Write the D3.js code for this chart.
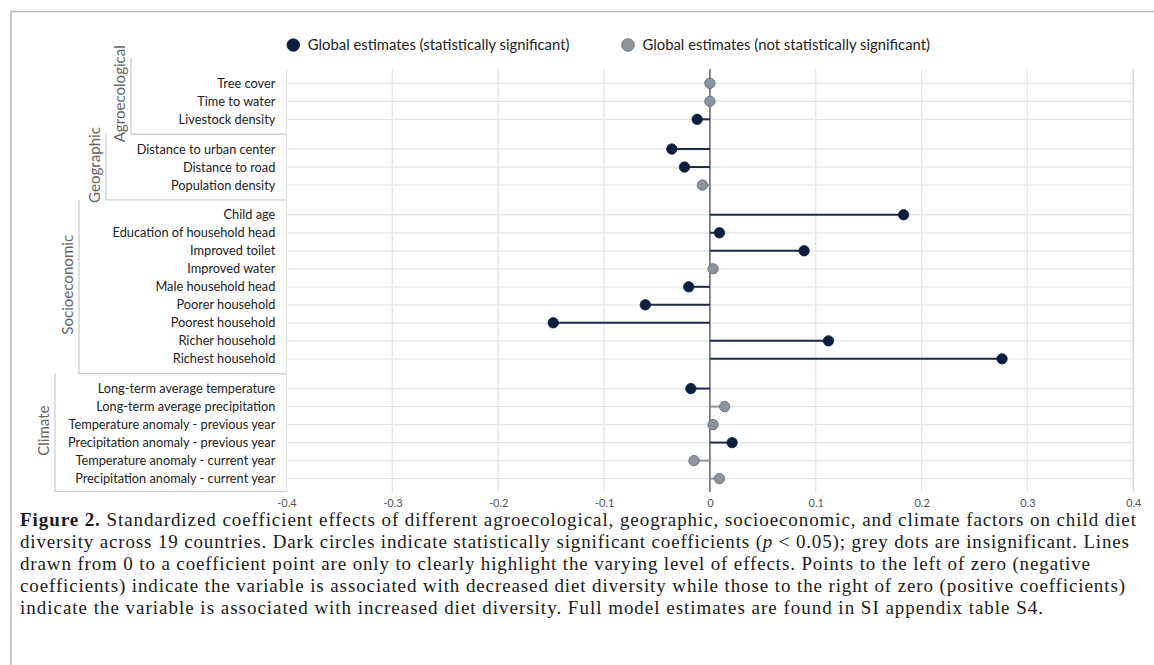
<!DOCTYPE html>
<html><head><meta charset="utf-8">
<script src="https://cdn.jsdelivr.net/npm/d3@7"></script>
<style>body{margin:0;background:#fff} svg{display:block}</style>
</head><body>
<svg id="c" width="1154" height="665"></svg>
<script>
const categories = ["Tree cover","Time to water","Livestock density","Distance to urban center","Distance to road","Population density","Child age","Education of household head","Improved toilet","Improved water","Male household head","Poorer household","Poorest household","Richer household","Richest household","Long-term average temperature","Long-term average precipitation","Temperature anomaly - previous year","Precipitation anomaly - previous year","Temperature anomaly - current year","Precipitation anomaly - current year"];
const groups = ["Agroecological","Geographic","Socioeconomic","Climate"];
const groupIndex = [0,0,0,1,1,1,2,2,2,2,2,2,2,2,2,3,3,3,3,3,3];
const coefficients = [0.000,0.000,-0.012,-0.036,-0.024,-0.007,0.183,0.009,0.089,0.003,-0.020,-0.061,-0.148,0.112,0.276,-0.018,0.014,0.003,0.021,-0.015,0.009];
const significant = [false,false,true,true,true,false,true,true,true,false,true,true,true,true,true,true,false,false,true,false,false];
const xTicks = [-0.4,-0.3,-0.2,-0.1,0,0.1,0.2,0.3,0.4];
const legendLabels = ["Global estimates (statistically significant)","Global estimates (not statistically significant)"];
const captionLines = [
  [["b","Figure 2."],["n"," Standardized coefficient effects of different agroecological, geographic, socioeconomic, and climate factors on child diet"]],
  [["n","diversity across 19 countries. Dark circles indicate statistically significant coefficients ("],["i","p"],["n"," < 0.05); grey dots are insignificant. Lines"]],
  [["n","drawn from 0 to a coefficient point are only to clearly highlight the varying level of effects. Points to the left of zero (negative"]],
  [["n","coefficients) indicate the variable is associated with decreased diet diversity while those to the right of zero (positive coefficients)"]],
  [["n","indicate the variable is associated with increased diet diversity. Full model estimates are found in SI appendix table S4."]]
];

(function(){
const svg = d3.select("#c");
const DARK = "#0b1e40", DARKLINE = "#1d2b45", GREY = "#8c959d", GREYSTROKE = "#5c656e";
const sans = "Lato, 'Open Sans', sans-serif";

svg.append("path").attr("d","M11,665V11.5H1154").attr("fill","none").attr("stroke","#b8b8b8").attr("stroke-width",1.5);

const GAP = 0.65;
const slot = categories.map((c,i)=> i + groupIndex[i]*GAP);
const y = d3.scaleLinear().domain([0, d3.max(slot)]).range([83.3, 478.6]);
const x = d3.scaleLinear().domain([-0.4, 0.4]).range([286.5, 1133.3]);
const plotTop = 69, plotBottom = 492;

function fit(sel, target){
  const w = sel.node().getComputedTextLength();
  const fs = parseFloat(sel.attr("font-size"));
  return fs*target/w;
}

const g = svg.append("g");
g.selectAll("line.h").data(categories).join("line")
  .attr("x1", x(-0.4)).attr("x2", x(0.4))
  .attr("y1",(d,i)=>y(slot[i])).attr("y2",(d,i)=>y(slot[i]))
  .attr("stroke","#e5e5e5").attr("stroke-width",1.3);
g.selectAll("line.v").data(xTicks.filter(t=>t!==0)).join("line")
  .attr("x1",d=>x(d)).attr("x2",d=>x(d)).attr("y1",plotTop).attr("y2",plotBottom)
  .attr("stroke",d=>d===0.4?"#d6d6d6":"#e5e5e5").attr("stroke-width",1.3);

const ax = svg.append("g").attr("transform",`translate(0,${plotBottom})`)
  .call(d3.axisBottom(x).tickValues(xTicks).tickSize(0).tickPadding(7).tickFormat(d=>String(d)));
ax.select(".domain").remove();
ax.selectAll("text").attr("font-family",sans).attr("font-size",11).attr("fill","#555");

svg.append("line").attr("x1",x(0)).attr("x2",x(0)).attr("y1",plotTop).attr("y2",plotBottom)
  .attr("stroke","#7a7a7a").attr("stroke-width",1.8);

svg.selectAll("line.stem").data(coefficients).join("line")
  .attr("x1",x(0)).attr("x2",d=>x(d))
  .attr("y1",(d,i)=>y(slot[i])).attr("y2",(d,i)=>y(slot[i]))
  .attr("stroke",(d,i)=>significant[i]?DARKLINE:GREY).attr("stroke-width",2);
svg.selectAll("circle.dot").data(coefficients).join("circle")
  .attr("cx",d=>x(d)).attr("cy",(d,i)=>y(slot[i])).attr("r",5.2)
  .attr("fill",(d,i)=>significant[i]?DARK:GREY)
  .attr("stroke",(d,i)=>significant[i]?DARK:GREYSTROKE).attr("stroke-width",0.8);

const labs = svg.selectAll("text.cat").data(categories).join("text")
  .attr("x",275.3).attr("y",(d,i)=>y(slot[i])).attr("dy","0.36em")
  .attr("text-anchor","end").attr("font-family",sans).attr("font-size",12).attr("fill","#222")
  .text(d=>d);
labs.attr("font-size", fit(labs.filter(d=>d==="Temperature anomaly - previous year"), 207));

const bracketX = [131, 106, 79, 55];
const bounds = groups.map((gr,gi)=>{
  const idx = categories.map((c,i)=>i).filter(i=>groupIndex[i]===gi);
  return {first:y(slot[idx[0]]), last:y(slot[idx[idx.length-1]])};
});
const br = svg.append("g").attr("fill","none").attr("stroke","#d2d2d2").attr("stroke-width",1.4);
groups.forEach((gr,gi)=>{
  const t = gi===0 ? bounds[0].first-26 : (bounds[gi-1].last+bounds[gi].first)/2;
  const b = gi===groups.length-1 ? bounds[gi].last+13 : (bounds[gi].last+bounds[gi+1].first)/2;
  br.append("path").attr("d",`M${bracketX[gi]},${t}V${b}H${x(-0.4)}`);
  bounds[gi].t=t; bounds[gi].b=b;
});
const gl = svg.selectAll("text.grp").data(groups).join("text")
  .attr("transform",(d,gi)=>`translate(${bracketX[gi]-12},${(bounds[gi].t+bounds[gi].b)/2 - 2}) rotate(-90)`)
  .attr("text-anchor","middle").attr("dominant-baseline","central")
  .attr("font-family",sans).attr("font-size",14).attr("fill","#666").text(d=>d);
gl.attr("font-size", fit(gl.filter(d=>d==="Socioeconomic"), 100));

const lg = svg.append("g");
const legX = [293.3, 628];
lg.selectAll("circle").data(legendLabels).join("circle")
  .attr("cx",(d,i)=>legX[i]).attr("cy",45).attr("r",6.3)
  .attr("fill",(d,i)=>i===0?DARK:GREY).attr("stroke",(d,i)=>i===0?DARK:GREYSTROKE).attr("stroke-width",0.8);
const lt = lg.selectAll("text").data(legendLabels).join("text")
  .attr("x",(d,i)=>legX[i]+14.5).attr("y",45).attr("dy","0.36em")
  .attr("font-family",sans).attr("font-size",14).attr("fill","#222").text(d=>d);
lt.attr("font-size", fit(lt.filter((d,i)=>i===0), 262));

const capX = 20;
const capEnd = [1136, 1129, 1090, 1125, 1043];
const capY0 = 526, capStep = 22;
const serif = "'Liberation Serif', 'Times New Roman', serif";
const caps = svg.selectAll("text.cap").data(captionLines).join("text")
  .attr("x",capX).attr("y",(d,i)=>capY0+i*capStep)
  .attr("font-family",serif).attr("font-size",17).attr("fill","#1a1a1a");
caps.each(function(parts){
  const t = d3.select(this);
  parts.forEach(p=>{
    const s = t.append("tspan").text(p[1]);
    if(p[0]==="b") s.attr("font-weight","bold");
    if(p[0]==="i") s.attr("font-style","italic");
  });
});
const w0 = caps.filter((d,i)=>i===0).node().getComputedTextLength();
const fsC = Math.max(14, Math.min(19, 17*(capEnd[0]-capX)/w0));
caps.attr("font-size", fsC);
caps.attr("textLength",(d,i)=>capEnd[i]-capX).attr("lengthAdjust","spacing");
})();
</script>
</body></html>
